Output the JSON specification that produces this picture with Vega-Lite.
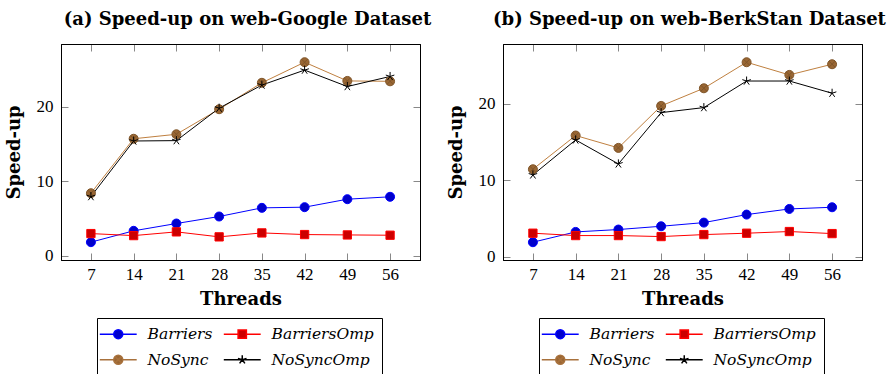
{
  "$schema": "https://vega.github.io/schema/vega-lite/v6.json",
  "padding": {"left": 4, "top": 10, "right": 5, "bottom": 0},
  "spacing": 83,
  "bounds": "flush",
  "datasets": {
    "google": [
      {"series": "Barriers", "threads": 7, "speedup": 1.84},
      {"series": "Barriers", "threads": 14, "speedup": 3.36},
      {"series": "Barriers", "threads": 21, "speedup": 4.34},
      {"series": "Barriers", "threads": 28, "speedup": 5.28},
      {"series": "Barriers", "threads": 35, "speedup": 6.44},
      {"series": "Barriers", "threads": 42, "speedup": 6.53},
      {"series": "Barriers", "threads": 49, "speedup": 7.6},
      {"series": "Barriers", "threads": 56, "speedup": 7.92},
      {"series": "BarriersOmp", "threads": 7, "speedup": 2.99},
      {"series": "BarriersOmp", "threads": 14, "speedup": 2.72},
      {"series": "BarriersOmp", "threads": 21, "speedup": 3.22},
      {"series": "BarriersOmp", "threads": 28, "speedup": 2.55},
      {"series": "BarriersOmp", "threads": 35, "speedup": 3.08},
      {"series": "BarriersOmp", "threads": 42, "speedup": 2.86},
      {"series": "BarriersOmp", "threads": 49, "speedup": 2.81},
      {"series": "BarriersOmp", "threads": 56, "speedup": 2.77},
      {"series": "NoSync", "threads": 7, "speedup": 8.4},
      {"series": "NoSync", "threads": 14, "speedup": 15.7},
      {"series": "NoSync", "threads": 21, "speedup": 16.3},
      {"series": "NoSync", "threads": 28, "speedup": 19.66},
      {"series": "NoSync", "threads": 35, "speedup": 23.2},
      {"series": "NoSync", "threads": 42, "speedup": 25.96},
      {"series": "NoSync", "threads": 49, "speedup": 23.45},
      {"series": "NoSync", "threads": 56, "speedup": 23.4},
      {"series": "NoSyncOmp", "threads": 7, "speedup": 7.95},
      {"series": "NoSyncOmp", "threads": 14, "speedup": 15.4},
      {"series": "NoSyncOmp", "threads": 21, "speedup": 15.45},
      {"series": "NoSyncOmp", "threads": 28, "speedup": 19.8},
      {"series": "NoSyncOmp", "threads": 35, "speedup": 22.9},
      {"series": "NoSyncOmp", "threads": 42, "speedup": 24.9},
      {"series": "NoSyncOmp", "threads": 49, "speedup": 22.7},
      {"series": "NoSyncOmp", "threads": 56, "speedup": 24.05}
    ],
    "berkstan": [
      {"series": "Barriers", "threads": 7, "speedup": 1.88},
      {"series": "Barriers", "threads": 14, "speedup": 3.23},
      {"series": "Barriers", "threads": 21, "speedup": 3.54},
      {"series": "Barriers", "threads": 28, "speedup": 3.97},
      {"series": "Barriers", "threads": 35, "speedup": 4.45},
      {"series": "Barriers", "threads": 42, "speedup": 5.5},
      {"series": "Barriers", "threads": 49, "speedup": 6.24},
      {"series": "Barriers", "threads": 56, "speedup": 6.46},
      {"series": "BarriersOmp", "threads": 7, "speedup": 3.06},
      {"series": "BarriersOmp", "threads": 14, "speedup": 2.75},
      {"series": "BarriersOmp", "threads": 21, "speedup": 2.75},
      {"series": "BarriersOmp", "threads": 28, "speedup": 2.62},
      {"series": "BarriersOmp", "threads": 35, "speedup": 2.88},
      {"series": "BarriersOmp", "threads": 42, "speedup": 3.06},
      {"series": "BarriersOmp", "threads": 49, "speedup": 3.28},
      {"series": "BarriersOmp", "threads": 56, "speedup": 3.01},
      {"series": "NoSync", "threads": 7, "speedup": 11.44},
      {"series": "NoSync", "threads": 14, "speedup": 15.86},
      {"series": "NoSync", "threads": 21, "speedup": 14.24},
      {"series": "NoSync", "threads": 28, "speedup": 19.74},
      {"series": "NoSync", "threads": 35, "speedup": 22.05},
      {"series": "NoSync", "threads": 42, "speedup": 25.46},
      {"series": "NoSync", "threads": 49, "speedup": 23.8},
      {"series": "NoSync", "threads": 56, "speedup": 25.2},
      {"series": "NoSyncOmp", "threads": 7, "speedup": 10.7},
      {"series": "NoSyncOmp", "threads": 14, "speedup": 15.28},
      {"series": "NoSyncOmp", "threads": 21, "speedup": 12.14},
      {"series": "NoSyncOmp", "threads": 28, "speedup": 18.86},
      {"series": "NoSyncOmp", "threads": 35, "speedup": 19.52},
      {"series": "NoSyncOmp", "threads": 42, "speedup": 23.0},
      {"series": "NoSyncOmp", "threads": 49, "speedup": 23.0},
      {"series": "NoSyncOmp", "threads": 56, "speedup": 21.4}
    ]
  },
  "hconcat": [
    {
      "title": "(a) Speed-up on web-Google Dataset",
      "width": 359,
      "height": 216,
      "data": {"name": "google"},
      "layer": [
        {
          "mark": {"type": "line", "strokeWidth": 1},
          "encoding": {
            "x": {"field": "threads", "type": "quantitative", "scale": {"domain": [2.1, 60.9], "nice": false, "zero": false}, "axis": {"orient": "bottom", "values": [7, 14, 21, 28, 35, 42, 49, 56], "title": "Threads", "labelPadding": 13, "titlePadding": 8}},
            "y": {"field": "speedup", "type": "quantitative", "scale": {"domain": [-0.55, 28.4], "nice": false, "zero": false}, "axis": {"orient": "left", "values": [0, 10, 20], "title": "Speed-up", "labelPadding": 15, "titlePadding": 13}},
            "color": {
              "field": "series", "type": "nominal", "legend": null,
              "scale": {"domain": ["Barriers", "BarriersOmp", "NoSync", "NoSyncOmp"], "range": ["#0000FF", "#FF0000", "#BF8040", "#000000"]}
            }
          }
        },
        {
          "transform": [{"filter": "false"}],
          "mark": {"type": "point", "filled": true, "opacity": 1, "size": 81, "strokeWidth": 1},
          "encoding": {
            "x": {"field": "threads", "type": "quantitative", "axis": null},
            "y": {"field": "speedup", "type": "quantitative", "axis": null},
            "shape": {"field": "series", "type": "nominal", "legend": {"orient": "none", "legendX": 36, "legendY": 274, "columns": 2, "direction": "horizontal", "title": null}, "scale": {"domain": ["Barriers", "BarriersOmp", "NoSync", "NoSyncOmp"], "range": ["M-4.1,0L-1,0M1,0L4.1,0M1,0A1,1 0 1,1 -1,0A1,1 0 1,1 1,0Z", "M-4.1,0L-0.92,0M0.92,0L4.1,0M-0.92,-0.92L0.92,-0.92L0.92,0.92L-0.92,0.92Z", "M-4.1,0L-1,0M1,0L4.1,0M1,0A1,1 0 1,1 -1,0A1,1 0 1,1 1,0ZM-0.7,-0.7L0.7,0.7M-0.7,0.7L0.7,-0.7", "M-4.1,0L4.1,0M0,0L0,-1M0,0L0.95,-0.31M0,0L0.59,0.81M0,0L-0.59,0.81M0,0L-0.95,-0.31"]}},
            "fill": {"field": "series", "type": "nominal", "legend": {"orient": "none", "legendX": 36, "legendY": 274, "columns": 2, "direction": "horizontal", "title": null}, "scale": {"domain": ["Barriers", "BarriersOmp", "NoSync", "NoSyncOmp"], "range": ["#0000CC", "#CC0000", "#996633", "transparent"]}},
            "stroke": {"field": "series", "type": "nominal", "legend": {"orient": "none", "legendX": 36, "legendY": 274, "columns": 2, "direction": "horizontal", "title": null}, "scale": {"domain": ["Barriers", "BarriersOmp", "NoSync", "NoSyncOmp"], "range": ["#0000FF", "#FF0000", "#A8713C", "#000000"]}}
          }
        },
        {
          "mark": {"type": "point", "filled": true, "opacity": 1, "size": 81, "strokeWidth": 1},
          "encoding": {
            "x": {"field": "threads", "type": "quantitative", "axis": {"orient": "top", "values": [7, 14, 21, 28, 35, 42, 49, 56], "labels": false, "title": null}},
            "y": {"field": "speedup", "type": "quantitative", "axis": {"orient": "right", "values": [0, 10, 20], "labels": false, "title": null}},
            "shape": {"field": "series", "type": "nominal", "legend": null, "scale": {"domain": ["Barriers", "BarriersOmp", "NoSync", "NoSyncOmp"], "range": ["circle", "M-0.92,-0.92L0.92,-0.92L0.92,0.92L-0.92,0.92Z", "M1,0A1,1 0 1,1 -1,0A1,1 0 1,1 1,0ZM-0.7,-0.7L0.7,0.7M-0.7,0.7L0.7,-0.7", "M0,0L0,-1M0,0L0.95,-0.31M0,0L0.59,0.81M0,0L-0.59,0.81M0,0L-0.95,-0.31"]}},
            "fill": {"field": "series", "type": "nominal", "legend": null, "scale": {"domain": ["Barriers", "BarriersOmp", "NoSync", "NoSyncOmp"], "range": ["#0000CC", "#CC0000", "#996633", "transparent"]}},
            "stroke": {"field": "series", "type": "nominal", "legend": null, "scale": {"domain": ["Barriers", "BarriersOmp", "NoSync", "NoSyncOmp"], "range": ["#0000FF", "#FF0000", "#7F5529", "#000000"]}}
          }
        }
      ],
      "resolve": {"axis": {"x": "independent", "y": "independent"}, "scale": {"shape": "independent", "fill": "independent", "stroke": "independent"}}
    },
    {
      "title": "(b) Speed-up on web-BerkStan Dataset",
      "width": 359,
      "height": 216,
      "data": {"name": "berkstan"},
      "layer": [
        {
          "mark": {"type": "line", "strokeWidth": 1},
          "encoding": {
            "x": {"field": "threads", "type": "quantitative", "scale": {"domain": [2.1, 60.9], "nice": false, "zero": false}, "axis": {"orient": "bottom", "values": [7, 14, 21, 28, 35, 42, 49, 56], "title": "Threads", "labelPadding": 13, "titlePadding": 8}},
            "y": {"field": "speedup", "type": "quantitative", "scale": {"domain": [-0.45, 27.85], "nice": false, "zero": false}, "axis": {"orient": "left", "values": [0, 10, 20], "title": "Speed-up", "labelPadding": 15, "titlePadding": 13}},
            "color": {
              "field": "series", "type": "nominal", "legend": null,
              "scale": {"domain": ["Barriers", "BarriersOmp", "NoSync", "NoSyncOmp"], "range": ["#0000FF", "#FF0000", "#BF8040", "#000000"]}
            }
          }
        },
        {
          "transform": [{"filter": "false"}],
          "mark": {"type": "point", "filled": true, "opacity": 1, "size": 81, "strokeWidth": 1},
          "encoding": {
            "x": {"field": "threads", "type": "quantitative", "axis": null},
            "y": {"field": "speedup", "type": "quantitative", "axis": null},
            "shape": {"field": "series", "type": "nominal", "legend": {"orient": "none", "legendX": 36, "legendY": 274, "columns": 2, "direction": "horizontal", "title": null}, "scale": {"domain": ["Barriers", "BarriersOmp", "NoSync", "NoSyncOmp"], "range": ["M-4.1,0L-1,0M1,0L4.1,0M1,0A1,1 0 1,1 -1,0A1,1 0 1,1 1,0Z", "M-4.1,0L-0.92,0M0.92,0L4.1,0M-0.92,-0.92L0.92,-0.92L0.92,0.92L-0.92,0.92Z", "M-4.1,0L-1,0M1,0L4.1,0M1,0A1,1 0 1,1 -1,0A1,1 0 1,1 1,0ZM-0.7,-0.7L0.7,0.7M-0.7,0.7L0.7,-0.7", "M-4.1,0L4.1,0M0,0L0,-1M0,0L0.95,-0.31M0,0L0.59,0.81M0,0L-0.59,0.81M0,0L-0.95,-0.31"]}},
            "fill": {"field": "series", "type": "nominal", "legend": {"orient": "none", "legendX": 36, "legendY": 274, "columns": 2, "direction": "horizontal", "title": null}, "scale": {"domain": ["Barriers", "BarriersOmp", "NoSync", "NoSyncOmp"], "range": ["#0000CC", "#CC0000", "#996633", "transparent"]}},
            "stroke": {"field": "series", "type": "nominal", "legend": {"orient": "none", "legendX": 36, "legendY": 274, "columns": 2, "direction": "horizontal", "title": null}, "scale": {"domain": ["Barriers", "BarriersOmp", "NoSync", "NoSyncOmp"], "range": ["#0000FF", "#FF0000", "#A8713C", "#000000"]}}
          }
        },
        {
          "mark": {"type": "point", "filled": true, "opacity": 1, "size": 81, "strokeWidth": 1},
          "encoding": {
            "x": {"field": "threads", "type": "quantitative", "axis": {"orient": "top", "values": [7, 14, 21, 28, 35, 42, 49, 56], "labels": false, "title": null}},
            "y": {"field": "speedup", "type": "quantitative", "axis": {"orient": "right", "values": [0, 10, 20], "labels": false, "title": null}},
            "shape": {"field": "series", "type": "nominal", "legend": null, "scale": {"domain": ["Barriers", "BarriersOmp", "NoSync", "NoSyncOmp"], "range": ["circle", "M-0.92,-0.92L0.92,-0.92L0.92,0.92L-0.92,0.92Z", "M1,0A1,1 0 1,1 -1,0A1,1 0 1,1 1,0ZM-0.7,-0.7L0.7,0.7M-0.7,0.7L0.7,-0.7", "M0,0L0,-1M0,0L0.95,-0.31M0,0L0.59,0.81M0,0L-0.59,0.81M0,0L-0.95,-0.31"]}},
            "fill": {"field": "series", "type": "nominal", "legend": null, "scale": {"domain": ["Barriers", "BarriersOmp", "NoSync", "NoSyncOmp"], "range": ["#0000CC", "#CC0000", "#996633", "transparent"]}},
            "stroke": {"field": "series", "type": "nominal", "legend": null, "scale": {"domain": ["Barriers", "BarriersOmp", "NoSync", "NoSyncOmp"], "range": ["#0000FF", "#FF0000", "#7F5529", "#000000"]}}
          }
        }
      ],
      "resolve": {"axis": {"x": "independent", "y": "independent"}, "scale": {"shape": "independent", "fill": "independent", "stroke": "independent"}}
    }
  ],
  "resolve": {"scale": {"color": "independent", "fill": "independent", "stroke": "independent", "shape": "independent"}, "legend": {"color": "independent", "shape": "independent", "fill": "independent", "stroke": "independent"}},
  "config": {
    "view": {"stroke": "black", "strokeWidth": 1},
    "title": {"font": "DejaVu Serif", "fontSize": 18, "fontWeight": "bold", "color": "black", "anchor": "middle", "offset": 15, "dx": 7},
    "axis": {
      "grid": false,
      "domainColor": "black",
      "domainWidth": 1,
      "tickColor": "#888888",
      "tickWidth": 1,
      "tickSize": -7,
      "labelFont": "Liberation Serif",
      "labelFontSize": 17,
      "labelColor": "black",
      "titleFont": "DejaVu Serif",
      "titleFontSize": 18,
      "titleFontWeight": "bold",
      "titleColor": "black"
    },
    "legend": {
      "strokeColor": "black",
      "padding": 8,
      "symbolSize": 81,
      "symbolOffset": 5.5,
      "labelOffset": 21.5,
      "rowPadding": 9,
      "columnPadding": 7,
      "labelFont": "DejaVu Serif",
      "labelFontStyle": "italic",
      "labelFontSize": 15.5,
      "labelColor": "black",
      "fillColor": "white"
    }
  }
}
